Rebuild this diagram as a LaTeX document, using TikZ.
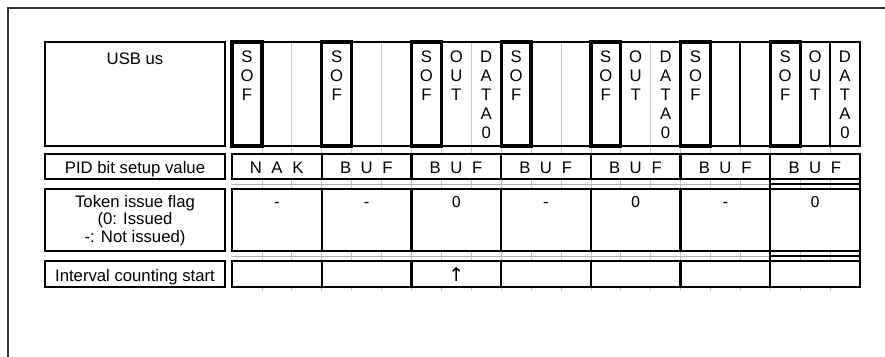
\documentclass[tikz,border=0pt]{standalone}
\usepackage{fontspec}
\setmainfont{Liberation Sans}
\newfontfamily\djvfont{DejaVu Sans}
\begin{document}
\begin{tikzpicture}[x=1pt,y=-1pt,
  frame/.style={draw=black!80,line width=1.3pt},
  rowbox/.style={draw=black,line width=2.4pt},
  sofbox/.style={draw=black,line width=3.3pt},
  medline/.style={draw=black,line width=1.8pt},
  faint/.style={draw=black!22,line width=0.7pt},
  gapline/.style={draw=black!30,line width=1pt},
  txt/.style={inner sep=0pt,font=\fontsize{16.7}{19}\selectfont},
  stack/.style={txt,align=center,anchor=north},
  valtxt/.style={inner sep=0pt,anchor=base,font=\djvfont\fontsize{15}{17}\selectfont},
  ]
\useasboundingbox (0,0) rectangle (885,356);
% frame (top and left edges)
\coordinate (fTL) at (8,8);
\coordinate (fTR) at (886,8);
\coordinate (fBL) at (8,357);
\draw[frame] (fTR) -- (fTL) -- (fBL);

% faint sub-column lines
\foreach \k in {1,...,20} {
  \pgfmathsetmacro\xx{232+29.905*\k}
  \draw[faint] (\xx,42) -- (\xx,154);
  \draw[faint] (\xx,179) -- (\xx,189);
  \draw[faint] (\xx,251) -- (\xx,261);
  \draw[faint] (\xx,287) -- (\xx,291);
}
% gap lines
\draw[gapline] (232,184) -- (770.2,184);
\draw[gapline] (232,256) -- (770.2,256);
\draw[draw=black,line width=1.3pt] (770.2,184) -- (860,184);
\draw[draw=black,line width=1.3pt] (770.2,256) -- (860,256);
\draw[rowbox] (770.2,179) -- (770.2,189);
\draw[rowbox] (860,179) -- (860,189);
\draw[rowbox] (770.2,251) -- (770.2,261);
\draw[rowbox] (860,251) -- (860,261);

% label column boxes
\draw[rowbox] (45,42) rectangle (225,146);
\draw[rowbox] (45,154) rectangle (225,179);
\draw[rowbox] (45,189) rectangle (225,251);
\draw[rowbox] (45,261) rectangle (225,287);
% data rows
\draw[rowbox] (232,42) rectangle (860,146);
\draw[rowbox] (232,154) rectangle (860,179);
\draw[rowbox] (232,189) rectangle (860,251);
\draw[rowbox] (232,261) rectangle (860,287);
\foreach \g in {1,...,6} {
  \pgfmathsetmacro\xx{232+89.714*\g}
  \draw[rowbox] (\xx,154) -- (\xx,179);
  \draw[rowbox] (\xx,189) -- (\xx,251);
  \draw[rowbox] (\xx,261) -- (\xx,287);
}
% row 1 extra lines
\draw[medline] (740.3,42) -- (740.3,146);
\draw[medline] (830.0,42) -- (830.0,146);
\draw[medline] (501.1,42) -- (501.1,146);
% SOF boxes
\foreach \g in {0,...,6} {
  \pgfmathsetmacro\xa{232+89.714*\g}
  \pgfmathsetmacro\xb{\xa+29.905}
  \draw[sofbox] (\xa,42) rectangle (\xb,146);
}

% ---- texts ----
\node[txt,anchor=base] (lusb) at (135,64) {USB us};
\node[stack] (sof1) at (247.0,51) {S\\O\\F};
\node[stack] (sof2) at (336.7,51) {S\\O\\F};
\node[stack] (sof3) at (426.4,51) {S\\O\\F};
\node[stack] (sof4) at (516.1,51) {S\\O\\F};
\node[stack] (sof5) at (605.8,51) {S\\O\\F};
\node[stack] (sof6) at (695.5,51) {S\\O\\F};
\node[stack] (sof7) at (785.2,51) {S\\O\\F};
\node[stack] (out3) at (456.3,51) {O\\U\\T};
\node[stack] (out5) at (635.7,51) {O\\U\\T};
\node[stack] (out7) at (815.1,51) {O\\U\\T};
\node[stack] (dat3) at (486.2,51) {D\\A\\T\\A\\0};
\node[stack] (dat5) at (665.6,51) {D\\A\\T\\A\\0};
\node[stack] (dat7) at (845.0,51) {D\\A\\T\\A\\0};

\node[txt,anchor=base] (lpid) at (135,173) {PID bit setup value};
\node[txt,anchor=base] (p1) at (276.9,173) {\makebox[21pt]{N}\makebox[21pt]{A}\makebox[21pt]{K}};
\node[txt,anchor=base] (p2) at (366.6,173) {\makebox[21pt]{B}\makebox[21pt]{U}\makebox[21pt]{F}};
\node[txt,anchor=base] (p3) at (456.3,173) {\makebox[21pt]{B}\makebox[21pt]{U}\makebox[21pt]{F}};
\node[txt,anchor=base] (p4) at (546.0,173) {\makebox[21pt]{B}\makebox[21pt]{U}\makebox[21pt]{F}};
\node[txt,anchor=base] (p5) at (635.7,173) {\makebox[21pt]{B}\makebox[21pt]{U}\makebox[21pt]{F}};
\node[txt,anchor=base] (p6) at (725.4,173) {\makebox[21pt]{B}\makebox[21pt]{U}\makebox[21pt]{F}};
\node[txt,anchor=base] (p7) at (815.1,173) {\makebox[21pt]{B}\makebox[21pt]{U}\makebox[21pt]{F}};

\node[txt,align=center,anchor=north,font=\fontsize{16.7}{17.5}\selectfont] (ltok) at (135,195)
  {Token issue flag\\(0: Issued\\-: Not issued)};
\node[txt,anchor=base] (t1) at (276.9,207) {-};
\node[txt,anchor=base] (t2) at (366.6,207) {-};
\node[valtxt] (t3) at (456.3,207) {0};
\node[txt,anchor=base] (t4) at (546.0,207) {-};
\node[valtxt] (t5) at (635.7,207) {0};
\node[txt,anchor=base] (t6) at (725.4,207) {-};
\node[valtxt] (t7) at (815.1,207) {0};

\node[txt,anchor=base] (lint) at (135,281) {Interval counting start};
\node[valtxt,font=\djvfont\fontsize{19}{21}\selectfont] (arr3) at (456.3,281) {↑};
\end{tikzpicture}
\end{document}
